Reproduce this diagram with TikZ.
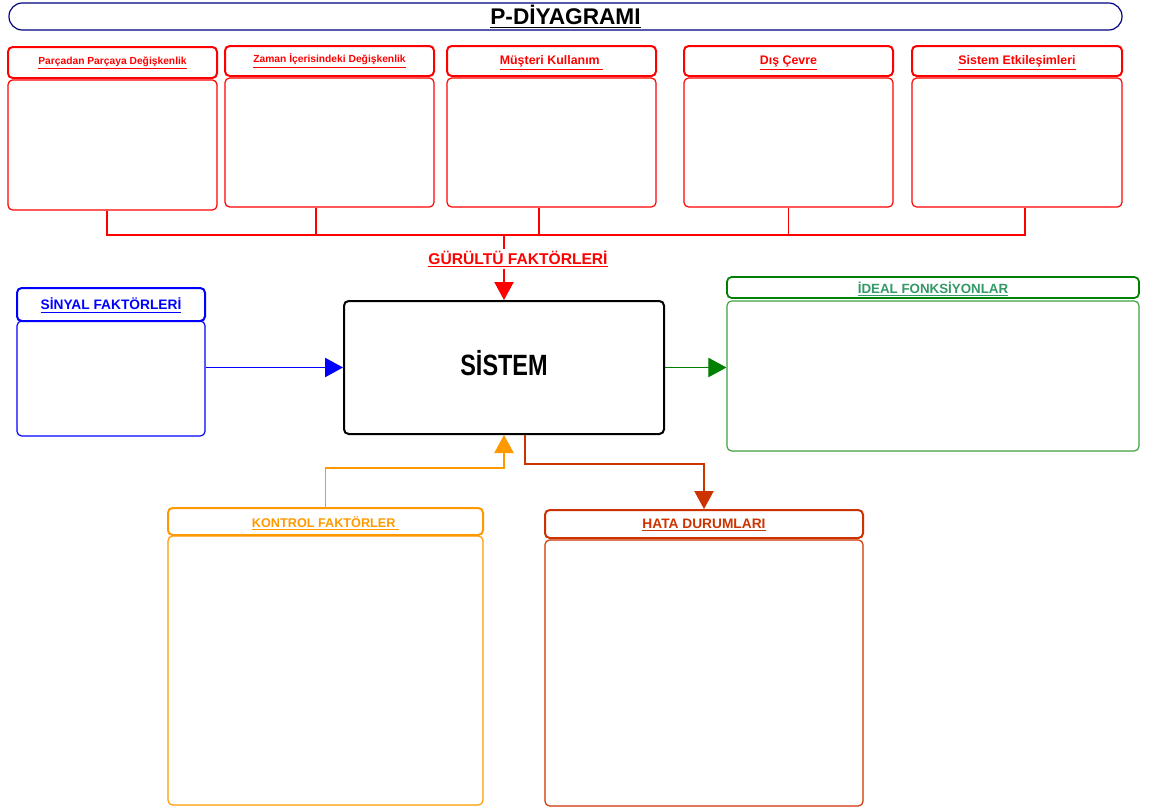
\documentclass[tikz,border=0pt]{standalone}
\usepackage{fontspec}
\setmainfont{Liberation Sans}
\usetikzlibrary{arrows.meta,fit}
\definecolor{navyline}{HTML}{000080}
\definecolor{sigblue}{HTML}{0000FF}
\definecolor{idealgreen}{HTML}{008000}
\definecolor{idealtext}{HTML}{339966}
\definecolor{ctrlorange}{HTML}{FF9900}
\definecolor{failred}{HTML}{CC3300}
\begin{document}
\begin{tikzpicture}[x=0.75pt,y=-0.75pt,
  hdr/.style={draw=#1, line width=1.5pt, rounded corners=3.5pt, inner sep=0pt},
  bodybox/.style={draw=#1, line width=0.9pt, rounded corners=3.5pt, inner sep=0pt},
  lbl/.style={font=\bfseries\fontsize{#1}{#1}\selectfont, inner sep=0pt},
  arr/.style={-{Triangle[width=14.5pt,length=13.5pt]}},
  wire/.style={line width=0.8pt}]
\path[use as bounding box] (0,0) rectangle (1149,810);

% title bar
\node[draw=navyline, line width=0.9pt, rounded corners=10pt, inner sep=0pt,
      fit={(9,3)(1122,30)}] (title) {};
\node[lbl=17pt] (titletxt) at (title.center) {\underline{P-DİYAGRAMI}};

% noise factor boxes
\node[hdr=red, fit={(8,47)(217,78)}] (h1) {};
\node[lbl=7.7pt, text=red] (h1t) at ([yshift=-0.5pt]h1.center) {\underline{Parçadan Parçaya Değişkenlik}};
\node[bodybox=red, fit={(8,80)(217,210)}] (b1) {};
\node[hdr=red, fit={(225,46)(434,76)}] (h2) {};
\node[lbl=7.7pt, text=red] (h2t) at ([yshift=0pt]h2.center) {\underline{Zaman İçerisindeki Değişkenlik}};
\node[bodybox=red, fit={(225,78)(434,207)}] (b2) {};
\node[hdr=red, fit={(447,46)(656,76)}] (h3) {};
\node[lbl=9.3pt, text=red] (h3t) at ([yshift=-1.5pt]h3.center) {\underline{Müşteri Kullanım\ }};
\node[bodybox=red, fit={(447,78)(656,207)}] (b3) {};
\node[hdr=red, fit={(684,46)(893,76)}] (h4) {};
\node[lbl=9.3pt, text=red] (h4t) at ([yshift=-1.5pt]h4.center) {\underline{Dış Çevre}};
\node[bodybox=red, fit={(684,78)(893,207)}] (b4) {};
\node[hdr=red, fit={(912,46)(1122,76)}] (h5) {};
\node[lbl=9.3pt, text=red] (h5t) at ([yshift=-1.5pt]h5.center) {\underline{Sistem Etkileşimleri}};
\node[bodybox=red, fit={(912,78)(1122,207)}] (b5) {};

% system block
\node[draw=black, line width=1.5pt, rounded corners=3.5pt, inner sep=0pt,
      fit={(344,301)(664,434)}] (sys) {};
\node[font=\bfseries\fontsize{22pt}{22pt}\selectfont] (systxt) at ([yshift=3.5pt]sys.center) {\scalebox{0.8}[1]{SİSTEM}};

% signal factors
\node[hdr=sigblue, fit={(17,288)(205,321)}] (sh) {};
\node[lbl=10.3pt, text=sigblue] (sht) at ([yshift=-0.75pt]sh.center) {\underline{SİNYAL FAKTÖRLERİ}};
\node[bodybox=sigblue, fit={(17,321)(205,436)}] (sb) {};

% ideal functions
\node[hdr=idealgreen, line width=1.3pt, fit={(727,277)(1139,298)}] (ih) {};
\node[lbl=10pt, text=idealtext] (iht) at ([yshift=-1pt]ih.center) {\underline{İDEAL FONKSİYONLAR}};
\node[bodybox=idealgreen!75!white, fit={(727,301)(1139,451)}] (ib) {};

% control factors
\node[hdr=ctrlorange, fit={(168,508)(483,535)}] (kh) {};
\node[lbl=9.5pt, text=ctrlorange] (kht) at ([yshift=-1.5pt]kh.center) {\underline{KONTROL FAKTÖRLER\ }};
\node[bodybox=ctrlorange, fit={(168,536)(483,805)}] (kb) {};

% failure modes
\node[hdr=failred, fit={(545,510)(863,538)}] (hh) {};
\node[lbl=10.3pt, text=failred] (hht) at ([yshift=-0.75pt]hh.center) {\underline{HATA DURUMLARI}};
\node[bodybox=failred, fit={(545,540)(863,806)}] (hb) {};

% noise bus
\coordinate (bus) at (504,235);
\draw[wire,red] ([xshift=-4.125pt]b1.south) |- (bus);
\draw[wire,red] ([xshift=-10.125pt]b2.south) |- (bus);
\draw[wire,red] ([xshift=-9.375pt]b3.south) |- (bus);
\draw[wire,red] (b4.south) |- (bus);
\draw[wire,red] ([xshift=6pt]b5.south) |- (bus);
\node[text=red, lbl=11.7pt, inner sep=1pt] (gur) at (518,259) {\underline{GÜRÜLTÜ FAKTÖRLERİ}};
\draw[wire,red] (bus) -- (bus |- gur.north);
\draw[wire,red,arr] (bus |- gur.south) -- (sys.north);

% signal and ideal arrows
\draw[wire,sigblue,arr] (sys.west -| sb.east) -- (sys.west);
\draw[wire,idealgreen,arr] (sys.east) -- (sys.east -| ib.west);

% control factors into the system
\coordinate (kbend) at (504,468);
\draw[wire,ctrlorange,arr] (kh.north) |- (kbend) -- (sys.south);

% system to failure modes
\coordinate (hbend) at (525,464);
\draw[wire,failred,arr] (sys.south -| hbend) -- (hbend) -| (hh.north);
\end{tikzpicture}
\end{document}
